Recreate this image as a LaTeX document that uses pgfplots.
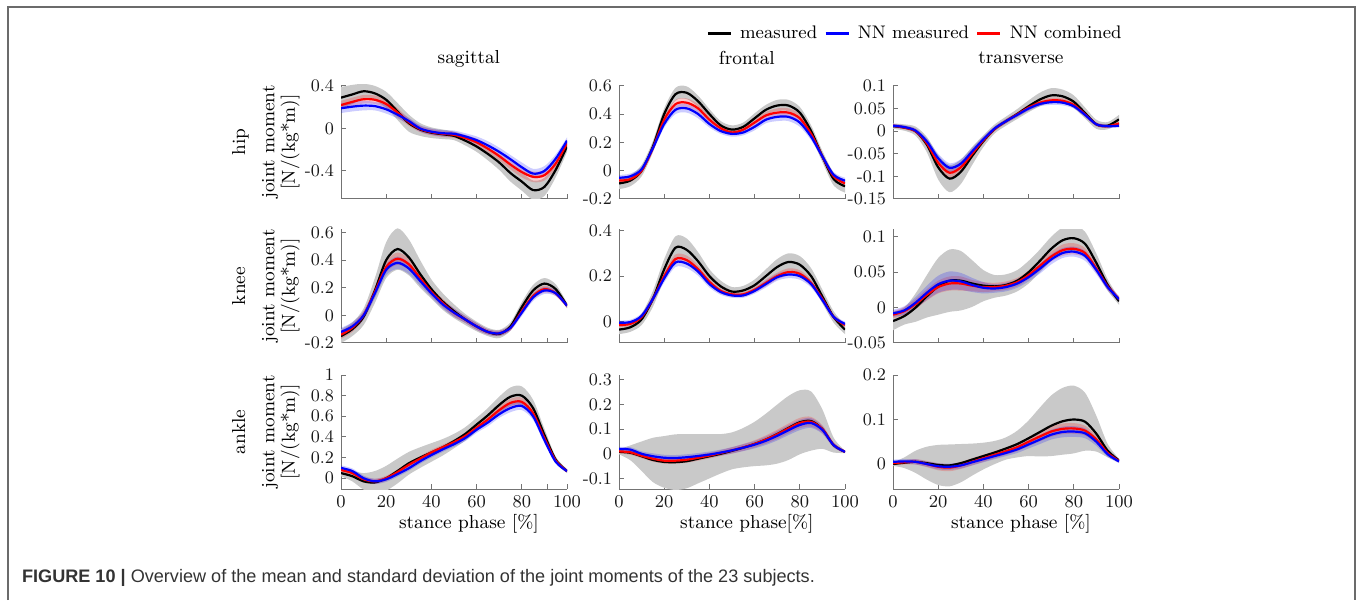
\documentclass[border=0pt]{standalone}
\usepackage{fontspec}
\newfontfamily\capfont{Liberation Sans}
\usepackage{pgfplots}
\usepackage{pgfplotstable}
\usepgfplotslibrary{fillbetween}
\pgfplotsset{compat=1.18}
\definecolor{axgray}{gray}{0.45}
\definecolor{bandgray}{gray}{0.79}
\definecolor{framegray}{gray}{0.42}

% columns: x, measured mean/sd (bm,bs), NN combined (rm,rs), NN measured (nm,ns)
\pgfplotstableread{
x bm bs rm rs nm ns
0 0.29 0.10 0.22 0.04 0.19 0.045
5 0.32 0.09 0.25 0.04 0.205 0.045
10 0.35 0.07 0.275 0.04 0.215 0.045
15 0.33 0.07 0.27 0.04 0.21 0.04
20 0.27 0.075 0.23 0.04 0.18 0.04
25 0.16 0.08 0.15 0.04 0.13 0.035
30 0.05 0.08 0.06 0.035 0.07 0.03
35 -0.01 0.06 -0.005 0.03 0.0 0.03
40 -0.04 0.05 -0.035 0.03 -0.03 0.03
45 -0.055 0.045 -0.05 0.03 -0.045 0.03
50 -0.07 0.04 -0.06 0.03 -0.05 0.03
55 -0.115 0.045 -0.09 0.03 -0.075 0.03
60 -0.17 0.05 -0.13 0.035 -0.11 0.035
65 -0.24 0.06 -0.19 0.04 -0.16 0.04
70 -0.32 0.07 -0.26 0.04 -0.22 0.04
75 -0.42 0.08 -0.34 0.045 -0.29 0.04
80 -0.50 0.085 -0.41 0.05 -0.365 0.045
85 -0.58 0.09 -0.455 0.05 -0.425 0.045
90 -0.55 0.085 -0.44 0.05 -0.40 0.045
95 -0.39 0.07 -0.33 0.045 -0.285 0.04
100 -0.17 0.05 -0.14 0.035 -0.115 0.03
}\hipsag
\pgfplotstableread{
x bm bs rm rs nm ns
0 -0.09 0.04 -0.07 0.02 -0.05 0.02
5 -0.07 0.04 -0.06 0.02 -0.04 0.02
10 0.00 0.04 0.00 0.02 0.01 0.02
15 0.17 0.04 0.16 0.025 0.16 0.025
20 0.40 0.04 0.36 0.025 0.33 0.025
25 0.54 0.045 0.47 0.03 0.43 0.03
30 0.55 0.045 0.48 0.03 0.44 0.03
35 0.49 0.04 0.44 0.03 0.40 0.03
40 0.40 0.035 0.36 0.025 0.33 0.025
45 0.32 0.03 0.30 0.02 0.28 0.02
50 0.29 0.03 0.27 0.02 0.26 0.02
55 0.31 0.03 0.29 0.02 0.27 0.02
60 0.37 0.035 0.34 0.025 0.31 0.025
65 0.43 0.035 0.39 0.025 0.36 0.025
70 0.46 0.04 0.41 0.03 0.38 0.03
75 0.46 0.04 0.41 0.03 0.38 0.03
80 0.41 0.04 0.37 0.03 0.34 0.03
85 0.28 0.04 0.26 0.025 0.24 0.025
90 0.10 0.04 0.10 0.02 0.10 0.02
95 -0.06 0.045 -0.04 0.02 -0.03 0.02
100 -0.11 0.045 -0.09 0.02 -0.07 0.02
}\hipfro
\pgfplotstableread{
x bm bs rm rs nm ns
0 0.011 0.006 0.012 0.004 0.012 0.004
5 0.008 0.007 0.008 0.004 0.009 0.004
10 0.0 0.01 0.0 0.005 0.001 0.005
15 -0.03 0.017 -0.027 0.008 -0.023 0.007
20 -0.08 0.027 -0.07 0.012 -0.06 0.01
25 -0.105 0.03 -0.092 0.013 -0.081 0.01
30 -0.09 0.027 -0.08 0.012 -0.072 0.01
35 -0.055 0.02 -0.05 0.01 -0.045 0.008
40 -0.022 0.013 -0.02 0.007 -0.018 0.006
45 0.005 0.01 0.005 0.005 0.006 0.005
50 0.022 0.01 0.022 0.005 0.022 0.005
55 0.038 0.011 0.037 0.005 0.036 0.005
60 0.055 0.013 0.052 0.006 0.05 0.005
65 0.07 0.015 0.063 0.006 0.06 0.005
70 0.079 0.016 0.068 0.006 0.064 0.006
75 0.077 0.015 0.067 0.006 0.063 0.006
80 0.065 0.014 0.058 0.006 0.055 0.005
85 0.04 0.012 0.037 0.005 0.036 0.005
90 0.015 0.01 0.015 0.004 0.015 0.004
95 0.012 0.008 0.011 0.004 0.011 0.004
100 0.026 0.01 0.017 0.004 0.012 0.004
}\hiptra
\pgfplotstableread{
x bm bs rm rs nm ns
0 -0.15 0.05 -0.14 0.03 -0.12 0.03
5 -0.10 0.05 -0.09 0.03 -0.08 0.03
10 -0.01 0.06 0.0 0.03 0.0 0.03
15 0.18 0.09 0.17 0.035 0.16 0.035
20 0.40 0.13 0.35 0.04 0.33 0.04
25 0.48 0.15 0.41 0.045 0.38 0.045
30 0.42 0.13 0.37 0.04 0.34 0.04
35 0.30 0.10 0.27 0.035 0.25 0.035
40 0.19 0.07 0.17 0.03 0.16 0.03
45 0.10 0.06 0.09 0.03 0.08 0.03
50 0.03 0.05 0.02 0.03 0.02 0.03
55 -0.03 0.04 -0.03 0.025 -0.03 0.025
60 -0.08 0.035 -0.08 0.025 -0.08 0.025
65 -0.12 0.03 -0.12 0.02 -0.12 0.02
70 -0.135 0.03 -0.13 0.02 -0.13 0.02
75 -0.08 0.03 -0.09 0.02 -0.09 0.02
80 0.06 0.035 0.03 0.025 0.02 0.025
85 0.18 0.04 0.14 0.025 0.13 0.025
90 0.23 0.04 0.19 0.025 0.18 0.025
95 0.19 0.035 0.16 0.02 0.16 0.02
100 0.07 0.02 0.07 0.015 0.07 0.015
}\kneesag
\pgfplotstableread{
x bm bs rm rs nm ns
0 -0.035 0.02 -0.015 0.01 -0.005 0.01
5 -0.025 0.02 -0.01 0.01 -0.002 0.01
10 0.01 0.025 0.02 0.012 0.025 0.012
15 0.10 0.035 0.10 0.015 0.10 0.015
20 0.23 0.045 0.20 0.018 0.19 0.018
25 0.325 0.05 0.275 0.02 0.26 0.02
30 0.315 0.05 0.27 0.02 0.255 0.02
35 0.265 0.04 0.23 0.018 0.22 0.018
40 0.20 0.03 0.175 0.015 0.165 0.015
45 0.155 0.025 0.135 0.012 0.13 0.012
50 0.132 0.02 0.12 0.01 0.115 0.01
55 0.137 0.02 0.12 0.01 0.115 0.01
60 0.16 0.025 0.14 0.012 0.135 0.012
65 0.20 0.03 0.17 0.015 0.165 0.015
70 0.24 0.035 0.20 0.015 0.195 0.015
75 0.262 0.038 0.218 0.016 0.207 0.016
80 0.25 0.038 0.21 0.016 0.20 0.016
85 0.20 0.035 0.17 0.015 0.165 0.015
90 0.11 0.03 0.10 0.012 0.095 0.012
95 0.02 0.025 0.02 0.01 0.02 0.01
100 -0.035 0.02 -0.015 0.01 -0.01 0.01
}\kneefro
\pgfplotstableread{
x bm bs rm rs nm ns
0 -0.019 0.013 -0.01 0.005 -0.008 0.005
5 -0.012 0.012 -0.005 0.006 -0.004 0.006
10 0.0 0.02 0.005 0.007 0.007 0.008
15 0.016 0.03 0.018 0.008 0.021 0.01
20 0.03 0.04 0.029 0.009 0.033 0.012
25 0.038 0.044 0.034 0.01 0.038 0.013
30 0.038 0.042 0.034 0.01 0.037 0.012
35 0.034 0.033 0.031 0.008 0.032 0.01
40 0.031 0.022 0.029 0.007 0.028 0.008
45 0.030 0.016 0.029 0.006 0.027 0.006
50 0.032 0.015 0.031 0.006 0.029 0.006
55 0.038 0.015 0.036 0.006 0.034 0.006
60 0.05 0.016 0.046 0.006 0.043 0.006
65 0.066 0.016 0.059 0.007 0.055 0.007
70 0.083 0.017 0.072 0.007 0.068 0.007
75 0.095 0.018 0.081 0.008 0.077 0.007
80 0.098 0.018 0.083 0.008 0.079 0.007
85 0.09 0.017 0.077 0.007 0.073 0.007
90 0.063 0.013 0.055 0.006 0.053 0.006
95 0.032 0.008 0.03 0.005 0.029 0.005
100 0.009 0.005 0.012 0.004 0.012 0.004
}\kneetra
\pgfplotstableread{
x bm bs rm rs nm ns
0 0.05 0.03 0.08 0.025 0.10 0.025
5 0.02 0.05 0.05 0.025 0.07 0.025
10 -0.03 0.08 -0.01 0.025 0.0 0.025
15 -0.04 0.11 -0.03 0.025 -0.03 0.025
20 0.0 0.12 0.0 0.025 -0.01 0.025
25 0.07 0.12 0.06 0.025 0.04 0.025
30 0.145 0.11 0.13 0.025 0.097 0.025
35 0.20 0.10 0.19 0.025 0.165 0.025
40 0.25 0.09 0.25 0.025 0.225 0.025
45 0.30 0.08 0.30 0.025 0.28 0.025
50 0.36 0.07 0.35 0.025 0.33 0.025
55 0.43 0.065 0.41 0.03 0.39 0.03
60 0.52 0.065 0.49 0.03 0.47 0.03
65 0.61 0.07 0.57 0.035 0.54 0.035
70 0.71 0.08 0.66 0.035 0.62 0.035
75 0.79 0.09 0.73 0.04 0.68 0.04
80 0.80 0.09 0.74 0.04 0.70 0.04
85 0.68 0.08 0.63 0.035 0.60 0.035
90 0.42 0.06 0.39 0.03 0.37 0.03
95 0.18 0.03 0.17 0.02 0.16 0.02
100 0.07 0.02 0.07 0.015 0.07 0.015
}\anksag
\pgfplotstableread{
x bm bs rm rs nm ns
0 0.008 0.01 0.01 0.008 0.02 0.008
5 0.004 0.03 0.006 0.01 0.017 0.01
10 -0.01 0.06 -0.008 0.01 0.0 0.01
15 -0.025 0.09 -0.02 0.012 -0.01 0.012
20 -0.033 0.105 -0.028 0.012 -0.016 0.012
25 -0.034 0.113 -0.028 0.012 -0.017 0.012
30 -0.03 0.11 -0.024 0.012 -0.014 0.012
35 -0.02 0.10 -0.016 0.012 -0.009 0.012
40 -0.01 0.09 -0.007 0.012 -0.003 0.012
45 0.0 0.08 0.003 0.012 0.005 0.012
50 0.012 0.075 0.014 0.013 0.014 0.013
55 0.025 0.08 0.026 0.014 0.025 0.014
60 0.04 0.09 0.04 0.015 0.037 0.015
65 0.058 0.105 0.058 0.017 0.053 0.017
70 0.08 0.12 0.079 0.019 0.073 0.019
75 0.105 0.13 0.103 0.02 0.096 0.02
80 0.128 0.13 0.125 0.021 0.117 0.021
85 0.133 0.12 0.13 0.02 0.125 0.02
90 0.10 0.08 0.1 0.016 0.097 0.016
95 0.035 0.03 0.036 0.01 0.035 0.01
100 0.008 0.005 0.008 0.005 0.008 0.005
}\ankfro
\pgfplotstableread{
x bm bs rm rs nm ns
0 0.0 0.004 0.002 0.004 0.005 0.005
5 0.003 0.012 0.004 0.005 0.006 0.005
10 0.005 0.025 0.005 0.006 0.005 0.006
15 0.002 0.037 0.0 0.007 0.0 0.006
20 -0.002 0.045 -0.006 0.008 -0.005 0.007
25 -0.003 0.047 -0.008 0.008 -0.006 0.007
30 0.002 0.043 -0.003 0.008 -0.003 0.007
35 0.01 0.036 0.005 0.008 0.004 0.007
40 0.018 0.03 0.013 0.008 0.011 0.007
45 0.026 0.026 0.021 0.008 0.018 0.007
50 0.035 0.025 0.029 0.008 0.025 0.007
55 0.045 0.03 0.038 0.009 0.033 0.008
60 0.058 0.04 0.05 0.01 0.044 0.009
65 0.072 0.055 0.062 0.011 0.055 0.01
70 0.086 0.068 0.073 0.012 0.066 0.011
75 0.096 0.075 0.079 0.012 0.072 0.012
80 0.1 0.076 0.08 0.012 0.073 0.012
85 0.095 0.065 0.075 0.011 0.069 0.011
90 0.068 0.04 0.055 0.009 0.05 0.009
95 0.03 0.015 0.025 0.006 0.022 0.006
100 0.008 0.004 0.007 0.004 0.006 0.004
}\anktra

\newcommand{\panel}[2]{%
  \addplot[name path=#2bu, draw=none, smooth, forget plot] table[x=x, y expr=\thisrow{bm}+\thisrow{bs}] {#1};
  \addplot[name path=#2bl, draw=none, smooth, forget plot] table[x=x, y expr=\thisrow{bm}-\thisrow{bs}] {#1};
  \addplot[name path=#2ru, draw=none, smooth, forget plot] table[x=x, y expr=\thisrow{rm}+\thisrow{rs}] {#1};
  \addplot[name path=#2rl, draw=none, smooth, forget plot] table[x=x, y expr=\thisrow{rm}-\thisrow{rs}] {#1};
  \addplot[name path=#2nu, draw=none, smooth, forget plot] table[x=x, y expr=\thisrow{nm}+\thisrow{ns}] {#1};
  \addplot[name path=#2nl, draw=none, smooth, forget plot] table[x=x, y expr=\thisrow{nm}-\thisrow{ns}] {#1};
  \addplot[fill=bandgray, draw=none, forget plot] fill between[of=#2bu and #2bl];
  \addplot[fill=red, fill opacity=0.2, draw=none, forget plot] fill between[of=#2ru and #2rl];
  \addplot[fill=blue, fill opacity=0.2, draw=none, forget plot] fill between[of=#2nu and #2nl];
  \addplot[black, line width=1.1pt, smooth, forget plot] table[x=x, y=bm] {#1};
  \addplot[red, line width=1.1pt, smooth, forget plot] table[x=x, y=rm] {#1};
  \addplot[blue, line width=1.1pt, smooth, forget plot] table[x=x, y=nm] {#1};
}

\pgfplotsset{
  panel/.style={
    scale only axis, width=113pt, height=57pt, anchor=south west,
    xmin=0, xmax=100, xtick={0,20,40,60,80,100},
    axis x line*=bottom, axis y line*=left,
    axis line style={-, draw=axgray, line width=0.5pt},
    tick style={draw=axgray, line width=0.5pt},
    tick align=inside, major tick length=2.5pt,
    tick label style={font=\fontsize{8.8}{10}\selectfont, text=black!90},
    label style={font=\fontsize{9.4}{10.2}\selectfont},
    title style={font=\fontsize{9.4}{11}\selectfont, at={(axis description cs:0.566,1)}, anchor=base, yshift=4.5pt},
    xlabel style={at={(axis description cs:0.566,0)}, anchor=base, yshift=-19.5pt},
    ylabel style={align=center, at={(axis description cs:-0.152,0.5)}, anchor=south},
  },
  notx/.style={xticklabels={}},
  sagx/.style={extra x ticks={91.5}, extra x tick labels={}, extra x tick style={tick style={draw=axgray}}},
}

\begin{document}
\begin{tikzpicture}
\path (0pt,0pt) rectangle (678.5pt,300pt);
\draw[framegray, line width=1pt] (4pt,0pt) -- (4pt,296.5pt) -- (677.5pt,296.5pt) -- (677.5pt,0pt);

% ---- row 1: hip
\begin{axis}[panel, notx, sagx, at={(170.5pt,200.5pt)}, ymin=-0.664, ymax=0.409,
  ytick={-0.4,0,0.4}, yticklabels={-0.4,0,0.4},
  title={sagittal}, ylabel={hip\\[4.5pt]joint moment\\{}[N/(kg*m)]}]
\panel{\hipsag}{a}
\end{axis}
\begin{axis}[panel, notx, at={(309.5pt,200.5pt)}, ymin=-0.2, ymax=0.605,
  ytick={-0.2,0,0.2,0.4,0.6}, yticklabels={-0.2,0,0.2,0.4,0.6},
  title={frontal}]
\panel{\hipfro}{b}
\end{axis}
\begin{axis}[panel, notx, at={(446.5pt,200.5pt)}, ymin=-0.15, ymax=0.102,
  ytick={-0.15,-0.1,-0.05,0,0.05,0.1}, yticklabels={-0.15,-0.1,-0.05,0,0.05,0.1},
  title={transverse},
  legend columns=3,
  legend style={draw=none, fill=none, at={(1.057,1.45)}, anchor=east,
    font=\fontsize{9.1}{11}\selectfont,
    /tikz/every odd column/.append style={column sep=2pt},
    /tikz/every even column/.append style={column sep=1.5pt}},
  legend image code/.code={\draw[#1, line width=1.3pt] (0pt,0pt) -- (11.5pt,0pt);}]
\panel{\hiptra}{c}
\addlegendimage{black}\addlegendentry{measured}
\addlegendimage{blue}\addlegendentry{NN measured}
\addlegendimage{red}\addlegendentry{NN combined}
\end{axis}

% ---- row 2: knee
\begin{axis}[panel, notx, sagx, at={(170.5pt,128.5pt)}, ymin=-0.2, ymax=0.625,
  ytick={-0.2,0,0.2,0.4,0.6}, yticklabels={-0.2,0,0.2,0.4,0.6},
  ylabel={knee\\[4.5pt]joint moment\\{}[N/(kg*m)]}]
\panel{\kneesag}{d}
\end{axis}
\begin{axis}[panel, notx, at={(309.5pt,128.5pt)}, ymin=-0.094, ymax=0.407,
  ytick={0,0.2,0.4}, yticklabels={0,0.2,0.4}]
\panel{\kneefro}{e}
\end{axis}
\begin{axis}[panel, notx, at={(446.5pt,128.5pt)}, ymin=-0.05, ymax=0.111,
  ytick={-0.05,0,0.05,0.1}, yticklabels={-0.05,0,0.05,0.1}]
\panel{\kneetra}{f}
\end{axis}

% ---- row 3: ankle
\begin{axis}[panel, sagx, at={(170.5pt,55.5pt)}, ymin=-0.104, ymax=1,
  ytick={0,0.2,0.4,0.6,0.8,1}, yticklabels={0,0.2,0.4,0.6,0.8,1},
  xlabel={stance phase [\%]},
  ylabel={ankle\\[4.5pt]joint moment\\{}[N/(kg*m)]}]
\panel{\anksag}{g}
\end{axis}
\begin{axis}[panel, at={(309.5pt,55.5pt)}, ymin=-0.143, ymax=0.32,
  ytick={-0.1,0,0.1,0.2,0.3}, yticklabels={-0.1,0,0.1,0.2,0.3},
  xlabel={stance phase[\%]}]
\panel{\ankfro}{h}
\end{axis}
\begin{axis}[panel, at={(446.5pt,55.5pt)}, ymin=-0.056, ymax=0.2,
  ytick={0,0.1,0.2}, yticklabels={0,0.1,0.2},
  xlabel={stance phase [\%]}]
\panel{\anktra}{i}
\end{axis}

\node[anchor=base west, inner sep=0pt, text=black!80] at (10.85pt,8.65pt)
  {\capfont\fontsize{9.05}{11}\selectfont\textbf{FIGURE 10 |} Overview of the mean and standard deviation of the joint moments of the 23 subjects.};
\end{tikzpicture}
\end{document}
